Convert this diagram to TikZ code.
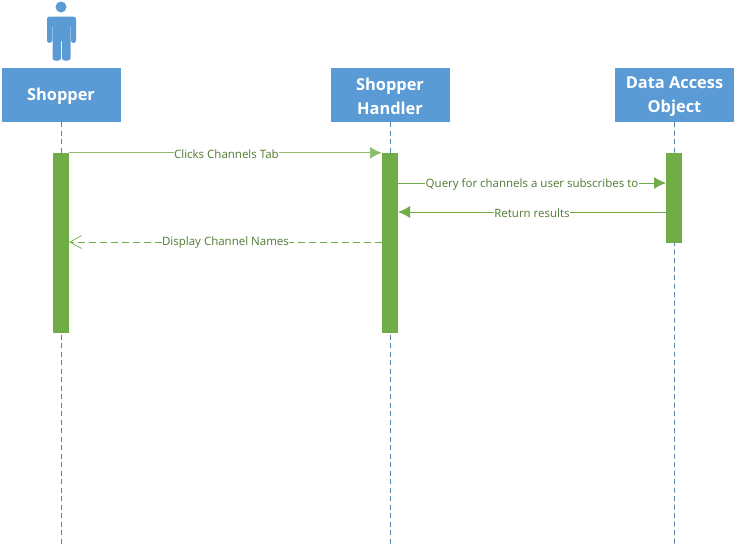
\documentclass[tikz,border=0pt]{standalone}
\usepackage{fontspec}
\setmainfont{Open Sans}
\usetikzlibrary{arrows.meta}
\definecolor{hdr}{HTML}{5B9BD5}
\definecolor{act}{HTML}{70AD47}
\definecolor{lnk}{HTML}{70AD47}
\definecolor{lbl}{HTML}{4F7A32}
\definecolor{life}{HTML}{5B83B5}
\newcommand\hdrstrut{\rule{0pt}{15.5pt}}
\tikzset{
  x=1pt,y=-1pt,
  hbox/.style={fill=hdr,draw=none,minimum width=119pt,minimum height=54pt,inner sep=0pt,align=center,text=white,font=\fontsize{16.4}{24}\selectfont\bfseries},
  actbar/.style={fill=act,draw=none,minimum width=16pt,inner sep=0pt},
  lifeline/.style={draw=life,line width=0.7pt,dash pattern=on 5pt off 3.5pt},
  msg/.style={draw=lnk,line width=0.9pt,-{Latex[length=12pt,width=12pt]}},
  reply/.style={draw=lnk,line width=0.9pt,dashed,dash pattern=on 7pt off 4pt,-{Straight Barb[length=12pt,width=13pt,line width=0.7pt]}},
  lab/.style={fill=white,text=lbl,inner sep=0.5pt,yshift=-1pt,font=\fontsize{11.5}{13}\selectfont}
}
\begin{document}
\begin{tikzpicture}
\useasboundingbox (0,0) rectangle (739,547);
\fill[white] (0,0) rectangle (739,547);
% lifelines
\coordinate (e1) at (61,547);
\coordinate (e2) at (390,547);
\coordinate (e3) at (674.4,547);
\node[hbox] (shopper) at (61,95) {\hdrstrut Shopper};
\node[hbox] (handler) at (390,95) {\hdrstrut Shopper\\Handler};
\node[hbox] (dao) at (674.5,95) {\hdrstrut Data Access\\Object};
\draw[lifeline] (shopper.south) -- (e1);
\draw[lifeline] (handler.south) -- (e2);
\draw[lifeline] (dao.south) -- (e3);
% actor
\fill[hdr] (61,7) circle (5.5);
\fill[hdr,rounded corners=2.5pt] (47,16.5) -- (76,16.5) -- (76,43) -- (71,43) -- (71,24) -- (70.5,24) -- (70.5,60.5) -- (62,60.5) -- (62,39) -- (61,39) -- (61,60.5) -- (52.5,60.5) -- (52.5,24) -- (52,24) -- (52,43) -- (47,43) -- cycle;
% activations
\node[actbar,minimum height=180pt] (a1) at (61,243) {};
\node[actbar,minimum height=180pt] (a2) at (390,243) {};
\node[actbar,minimum height=90pt] (a3) at (674,198) {};
\coordinate (q1) at (398,183);
\coordinate (q2) at (666,183);
\coordinate (r1) at (666,212);
\coordinate (r2) at (398,212);
\coordinate (d1) at (382,242);
\coordinate (d2) at (69,242);
% messages
\draw[msg,draw=lnk!80] (a1.north east) -- node[lab,pos=0.503] {Clicks Channels Tab} (a2.north west);
\draw[msg] (q1) -- node[lab] {Query for channels a user subscribes to} (q2);
\draw[msg] (r1) -- node[lab] {Return results} (r2);
\draw[reply] (d1) -- node[lab] {Display Channel Names} (d2);
\end{tikzpicture}
\end{document}
